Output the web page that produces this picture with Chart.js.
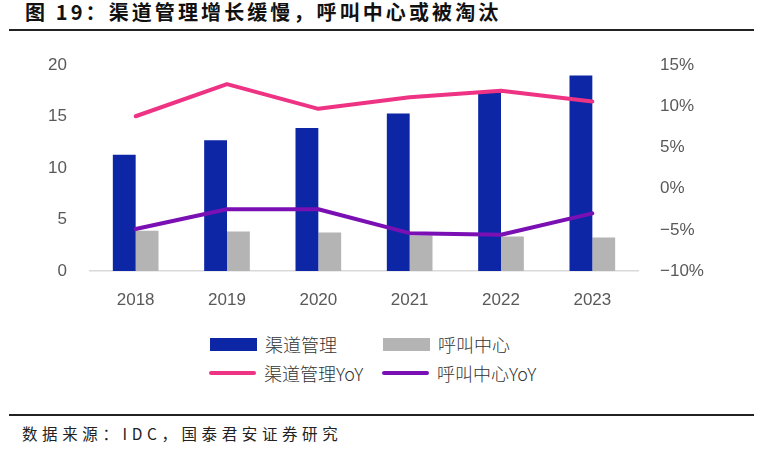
<!DOCTYPE html>
<html>
<head>
<meta charset="utf-8">
<script src="https://cdn.jsdelivr.net/npm/chart.js@4"></script>
<style>
  html, body { margin: 0; padding: 0; background: #fff; }
  body { width: 767px; height: 456px; position: relative; overflow: hidden; font-family: "Noto Sans CJK SC", sans-serif; }
  #title { position: absolute; left: 25px; top: -3px; font-size: 20px; font-weight: 700; color: #111; letter-spacing: 3.1px; white-space: nowrap; }
  .rule { position: absolute; left: 9px; width: 745px; background: #222; }
  #wrap { position: absolute; left: 0; top: 40px; width: 767px; height: 280px; }
  #legend { position: absolute; left: 0; top: 330px; width: 767px; height: 60px; }
  .item { position: absolute; display: flex; align-items: center; font-size: 18px; font-weight: 300; color: #333; white-space: nowrap; }
  .swatch { width: 47px; margin-right: 8px; }
  #source { position: absolute; left: 22px; top: 422px; font-size: 15.5px; color: #222; letter-spacing: 4.6px; white-space: nowrap; }
</style>
</head>
<body>
<div id="title">图 19：渠道管理增长缓慢，呼叫中心或被淘汰</div>
<div class="rule" style="top:29px;height:2px;"></div>
<div id="wrap"><canvas id="chart"></canvas></div>
<div id="legend"></div>
<div class="rule" style="top:414px;height:1.5px;"></div>
<div id="source">数据来源：IDC，国泰君安证券研究</div>
<script>
const years = ['2018', '2019', '2020', '2021', '2022', '2023'];
const channelMgmt = [11.3, 12.7, 13.9, 15.3, 17.3, 19.0];
const callCenter = [3.9, 3.85, 3.75, 3.45, 3.35, 3.25];
const channelMgmtYoY = [8.8, 12.7, 9.7, 11.1, 11.9, 10.6];
const callCenterYoY = [-4.9, -2.5, -2.5, -5.4, -5.6, -3.0];
const seriesNames = ['渠道管理', '呼叫中心', '渠道管理YoY', '呼叫中心YoY'];

const blue = '#0C26A6';
const grey = '#B4B4B4';
const pink = '#EE3384';
const purple = '#7A10B4';

const tickFont = { family: 'Liberation Sans, Arial, sans-serif', size: 17 };
const tickColor = '#595959';

const chart = new Chart(document.getElementById('chart'), {
  data: {
    labels: years,
    datasets: [
      { type: 'line', label: seriesNames[2], data: channelMgmtYoY, yAxisID: 'y1', order: 0,
        borderColor: pink, borderWidth: 4, pointRadius: 0, tension: 0, borderCapStyle: 'round', borderJoinStyle: 'round' },
      { type: 'line', label: seriesNames[3], data: callCenterYoY, yAxisID: 'y1', order: 0,
        borderColor: purple, borderWidth: 4, pointRadius: 0, tension: 0, borderCapStyle: 'round', borderJoinStyle: 'round' },
      { type: 'bar', label: seriesNames[0], data: channelMgmt, yAxisID: 'y', order: 1,
        backgroundColor: blue, categoryPercentage: 0.5, barPercentage: 1 },
      { type: 'bar', label: seriesNames[1], data: callCenter, yAxisID: 'y', order: 1,
        backgroundColor: grey, categoryPercentage: 0.5, barPercentage: 1 }
    ]
  },
  options: {
    responsive: true,
    maintainAspectRatio: false,
    animation: false,
    layout: { padding: { top: 22.7, left: 0, right: 0, bottom: 0 } },
    plugins: { legend: { display: false }, tooltip: { enabled: false } },
    scales: {
      x: {
        grid: { display: false },
        border: { display: true, color: '#D9D9D9', width: 1.5 },
        ticks: { font: tickFont, color: tickColor, padding: 11 },
        afterFit: s => { s.height = 49; }
      },
      y: {
        position: 'left', min: 0, max: 20,
        grid: { display: false },
        border: { display: false },
        ticks: { stepSize: 5, font: tickFont, color: tickColor, padding: 15 },
        afterFit: s => { s.width = 90; }
      },
      y1: {
        position: 'right', min: -10, max: 15,
        grid: { display: false },
        border: { display: false },
        ticks: { stepSize: 5, font: tickFont, color: tickColor, padding: 14,
          callback: v => (v < 0 ? '\u2212' + Math.abs(v) : v) + '%' },
        afterFit: s => { s.width = 129; }
      }
    }
  }
});

// legend laid out in two fixed columns like the original
const legendItems = [
  { name: seriesNames[0], color: blue, kind: 'box', x: 210, y: 14 },
  { name: seriesNames[1], color: grey, kind: 'box', x: 383, y: 14 },
  { name: seriesNames[2], color: pink, kind: 'line', x: 209, y: 43 },
  { name: seriesNames[3], color: purple, kind: 'line', x: 382, y: 43 }
];
const legend = document.getElementById('legend');
legendItems.forEach(it => {
  const el = document.createElement('div');
  el.className = 'item';
  el.style.left = it.x + 'px';
  el.style.top = (it.y - 13) + 'px';
  el.style.height = '26px';
  const sw = document.createElement('span');
  sw.className = 'swatch';
  sw.style.background = it.color;
  sw.style.height = it.kind === 'box' ? '13px' : '4px';
  if (it.kind === 'line') sw.style.borderRadius = '2px';
  const tx = document.createElement('span');
  tx.textContent = it.name;
  el.appendChild(sw);
  el.appendChild(tx);
  legend.appendChild(el);
});
</script>
</body>
</html>
